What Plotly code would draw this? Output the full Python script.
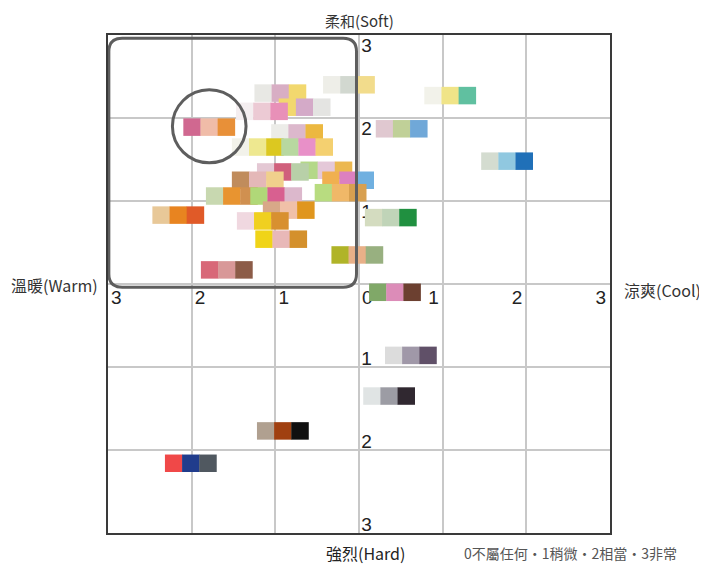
import plotly.graph_objects as go

# ---- data -------------------------------------------------------------
# each colour image = three swatches; (x: warm(-)..cool(+), y: hard(-)..soft(+))
group_x = [-0.12, -0.94, -1.16, -0.65, 1.09, -1.79, -0.74, 0.51, -1.21, -0.62,
           1.77, -0.91, -0.39, -1.21, -0.13, -1.52, -0.99, -0.22, -0.84, -2.16,
           0.38, -1.15, -0.93, -0.02, -1.58, 0.43, 0.62, 0.36, -0.91, -2.01]
group_y = [2.40, 2.30, 2.08, 2.13, 2.27, 1.89, 1.82, 1.87, 1.65, 1.65,
           1.48, 1.35, 1.37, 1.25, 1.25, 1.06, 1.06, 1.10, 0.89, 0.83,
           0.80, 0.76, 0.54, 0.35, 0.17, -0.10, -0.86, -1.35, -1.77, -2.16]
group_colors = [
    ["#eeeee8", "#d2d8d0", "#f2dc8c"],
    ["#e8e8e4", "#d8aec4", "#f2d86e"],
    ["#f4eef0", "#eccad4", "#e890b8"],
    ["#f2d86e", "#d4aac8", "#e4e4e2"],
    ["#f2f2ea", "#f0e488", "#60c0a0"],
    ["#d06890", "#f0bca8", "#e89038"],
    ["#ecece8", "#dcb8cc", "#ecb840"],
    ["#e0c8d0", "#c0d098", "#70a8d8"],
    ["#f2f2ea", "#eee890", "#dcc820"],
    ["#b8d8a0", "#e890c8", "#f4d070"],
    ["#d4dcd0", "#90c8e0", "#2070b8"],
    ["#e4c8d4", "#d0607c", "#b8d0a8"],
    ["#b4d888", "#e4c8d8", "#ecb850"],
    ["#c08c5c", "#e4b8b8", "#f0d08c"],
    ["#f0b050", "#dc80c0", "#70b0e0"],
    ["#c8d8b0", "#e89430", "#d09050"],
    ["#b0d878", "#d86090", "#dcb8cc"],
    ["#b8dc80", "#f0b868", "#d8a050"],
    ["#d8a888", "#f0c0a8", "#e0961e"],
    ["#e8c898", "#e88420", "#e05a28"],
    ["#d4dcc0", "#c0d4b8", "#209040"],
    ["#f0d8e0", "#f0d020", "#d89030"],
    ["#f0d418", "#e8b8b8", "#d4902c"],
    ["#b0b428", "#e8b088", "#98b080"],
    ["#d86878", "#d89898", "#8c5c48"],
    ["#80a868", "#dc8cb8", "#6c4030"],
    ["#dcdcdc", "#a098a8", "#605068"],
    ["#e0e4e4", "#9c9ca4", "#302830"],
    ["#b0a090", "#a04010", "#101010"],
    ["#f04848", "#203c8c", "#505860"],
]

tick_values = [-3, -2, -1, 0, 1, 2, 3]
tick_labels = ["3", "2", "1", "0", "1", "2", "3"]
y_tick_values = [3, 2, 1, -1, -2, -3]
y_tick_labels = ["3", "2", "1", "1", "2", "3"]

title_top = "柔和(Soft)"
title_bottom = "強烈(Hard)"
title_left = "溫暖(Warm)"
title_right = "涼爽(Cool)"
note = "0不屬任何・1稍微・2相當・3非常"

# ---- build -------------------------------------------------------------
STEP = 0.205
sq_x, sq_y, sq_c = [], [], []
order = sorted(range(len(group_x)), key=lambda i: -group_y[i])
for i in order:
    for k, col in enumerate(group_colors[i]):
        sq_x.append(group_x[i] + (k - 1) * STEP)
        sq_y.append(group_y[i])
        sq_c.append(col)

fig = go.Figure()

# tick labels (drawn under swatches)
lab_x, lab_y, lab_t = [], [], []
for v, t in zip(tick_values, tick_labels):
    off = 0.1 if v <= 0 else -0.11
    lab_x.append(v + off)
    lab_y.append(-0.18)
    lab_t.append(t)
for v, t in zip(y_tick_values, y_tick_labels):
    lab_x.append(0.09)
    lab_y.append(v - 0.15 if v > 0 else v + 0.08)
    lab_t.append(t)

fig.add_trace(go.Scatter(
    x=lab_x, y=lab_y, text=lab_t, mode="text",
    textfont=dict(family="Liberation Sans, Arial", size=19, color="#222222"),
    hoverinfo="skip", showlegend=False))

fig.add_trace(go.Scatter(
    x=sq_x, y=sq_y, mode="markers",
    marker=dict(symbol="square", size=17.5, color=sq_c, line=dict(width=0)),
    showlegend=False, hoverinfo="skip"))

# highlight shapes
x0, x1, y0, y1 = -2.99, -0.03, -0.04, 2.96
r = 0.16
path = (f"M {x0+r},{y1} L {x1-r},{y1} Q {x1},{y1} {x1},{y1-r} "
        f"L {x1},{y0+r} Q {x1},{y0} {x1-r},{y0} L {x0+r},{y0} "
        f"Q {x0},{y0} {x0},{y0+r} L {x0},{y1-r} Q {x0},{y1} {x0+r},{y1} Z")
fig.add_shape(type="path", path=path, xref="x", yref="y",
              line=dict(color="#5e5e5e", width=3), layer="above")
fig.add_shape(type="circle", xref="x", yref="y",
              x0=-1.79 - 0.44, x1=-1.79 + 0.44, y0=1.90 - 0.44, y1=1.90 + 0.44,
              line=dict(color="#5e5e5e", width=3), layer="above")

PW, PH = 502, 498
cjk = "Noto Sans CJK TC, Noto Sans, sans-serif"
fig.add_annotation(text=title_top, xref="paper", yref="paper", x=0.5,
                   y=1 + 15 / PH, yanchor="middle", showarrow=False,
                   borderpad=0,
                   font=dict(family=cjk, size=15, color="#333333"))
fig.add_annotation(text=title_bottom, xref="paper", yref="paper", x=0.512,
                   y=-20 / PH, yanchor="middle", showarrow=False,
                   font=dict(family=cjk, size=16, color="#222222"))
fig.add_annotation(text=title_left, xref="paper", yref="paper", x=-8 / PW,
                   y=0.5 - 1 / PH, xanchor="right", yanchor="middle",
                   showarrow=False,
                   font=dict(family=cjk, size=16, color="#333333"))
fig.add_annotation(text=title_right, xref="paper", yref="paper", x=1 + 12 / PW,
                   y=0.5 - 6 / PH, xanchor="left", yanchor="middle",
                   showarrow=False,
                   font=dict(family=cjk, size=16, color="#333333"))
fig.add_annotation(text=note, xref="paper", yref="paper", x=0.705,
                   y=-20 / PH, xanchor="left", yanchor="middle",
                   showarrow=False,
                   font=dict(family=cjk, size=14, color="#555555"))

axis_common = dict(range=[-3, 3], dtick=1, tick0=0, showticklabels=False,
                   showgrid=True, gridcolor="#c8c8c8", gridwidth=1.5,
                   zeroline=False, showline=True, mirror=True,
                   linecolor="#3a3a3a", linewidth=2, ticks="", fixedrange=True)
# page body has an 8px default margin, so the figure is sized to fit
fig.update_layout(
    width=699, height=563,
    margin=dict(l=100, r=97, t=27, b=38, autoexpand=False),
    paper_bgcolor="white", plot_bgcolor="white",
    xaxis=axis_common, yaxis=axis_common,
)

fig.write_html("out.html")
